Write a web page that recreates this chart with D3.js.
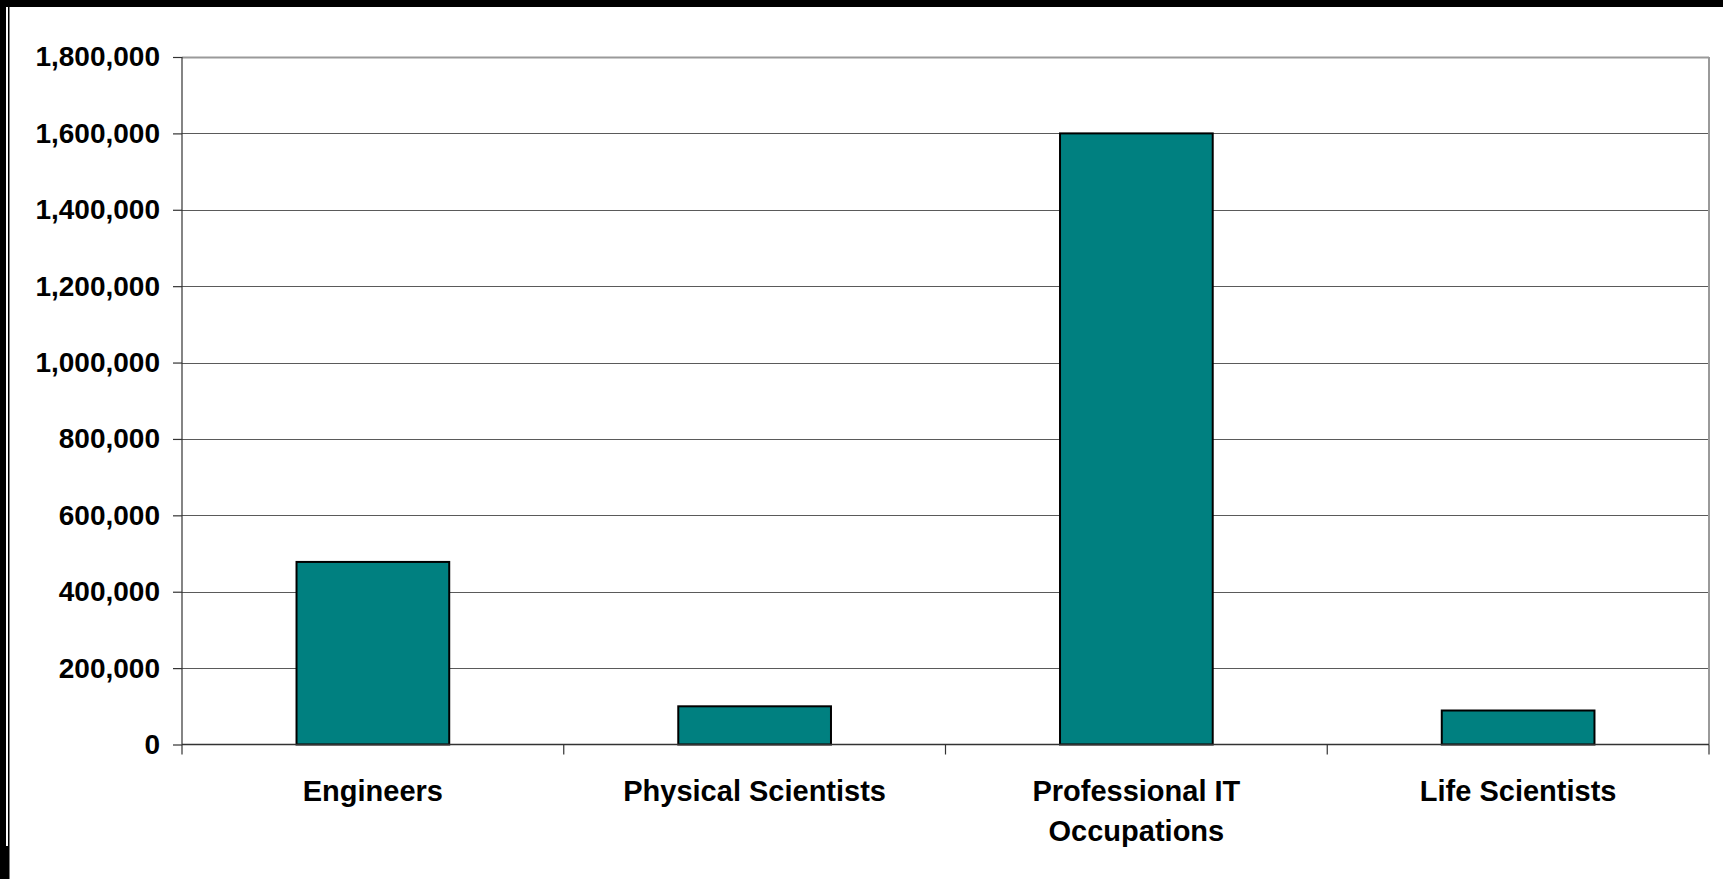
<!DOCTYPE html>
<html>
<head>
<meta charset="utf-8">
<script src="https://d3js.org/d3.v7.min.js"></script>
<style>
  html, body { margin: 0; padding: 0; background: #fff; }
  svg { display: block; }
  text { font-family: "Liberation Sans", Arial, sans-serif; font-weight: bold; fill: #000; }
</style>
</head>
<body>
<div id="chart"></div>
<script>
const categories = ["Engineers", "Physical Scientists", "Professional IT|Occupations", "Life Scientists"];
const values = [478000, 100000, 1600000, 89000];
const yTicks = [0, 200000, 400000, 600000, 800000, 1000000, 1200000, 1400000, 1600000, 1800000];

const W = 1723, H = 879;
const plot = {left: 182, right: 1709, top: 57, bottom: 744.5};

const svg = d3.select("#chart").append("svg")
    .attr("width", W)
    .attr("height", H);

// frame remnants at the top and left edge
svg.append("rect").attr("x", 0).attr("y", 0).attr("width", W).attr("height", 7).attr("fill", "#000");
svg.append("rect").attr("x", 0).attr("y", 0).attr("width", 6).attr("height", H).attr("fill", "#000");
svg.append("rect").attr("x", 8).attr("y", 0).attr("width", 1.5).attr("height", H).attr("fill", "#000");
svg.append("rect").attr("x", 0).attr("y", 846).attr("width", 9).attr("height", H - 846).attr("fill", "#000");

const x = d3.scaleBand()
    .domain(categories)
    .range([plot.left, plot.right])
    .paddingInner(0.6)
    .paddingOuter(0.3);

const y = d3.scaleLinear()
    .domain([0, 1800000])
    .range([plot.bottom, plot.top]);

// gridlines
svg.append("g")
  .selectAll("line")
  .data(yTicks.filter(d => d > 0))
  .join("line")
    .attr("x1", plot.left)
    .attr("x2", plot.right)
    .attr("y1", d => Math.round(y(d)) + 0.5)
    .attr("y2", d => Math.round(y(d)) + 0.5)
    .attr("stroke", d => d === 1800000 ? "#9a9a9a" : "#5a5a5a")
    .attr("stroke-width", d => d === 1800000 ? 2 : 1.2);

// right border of plot area
svg.append("line")
    .attr("x1", plot.right).attr("x2", plot.right)
    .attr("y1", plot.top).attr("y2", plot.bottom)
    .attr("stroke", "#9a9a9a").attr("stroke-width", 2);

// bars
svg.append("g")
  .selectAll("rect")
  .data(values)
  .join("rect")
    .attr("x", (d, i) => x(categories[i]))
    .attr("y", d => y(d))
    .attr("width", x.bandwidth())
    .attr("height", d => y(0) - y(d))
    .attr("fill", "#008080")
    .attr("stroke", "#000")
    .attr("stroke-width", 2);

// y axis
const yAxis = svg.append("g")
    .attr("transform", `translate(${plot.left},0)`)
    .call(d3.axisLeft(y)
        .tickValues(yTicks)
        .tickSize(9)
        .tickPadding(13)
        .tickFormat(d3.format(",")));
yAxis.select(".domain").attr("stroke", "#333").attr("stroke-width", 1.2).attr("d", `M0,${plot.top}V${plot.bottom}`);
yAxis.selectAll(".tick line").attr("stroke", "#333").attr("stroke-width", 1.2);
yAxis.selectAll(".tick text")
    .attr("font-size", 28)
    .attr("font-family", "'Liberation Sans', Arial, sans-serif")
    .attr("font-weight", "bold")
    .attr("fill", "#000");

// x axis line with boundary ticks
svg.append("line")
    .attr("x1", plot.left).attr("x2", plot.right)
    .attr("y1", plot.bottom).attr("y2", plot.bottom)
    .attr("stroke", "#333").attr("stroke-width", 1.5);

const bounds = categories.map((c, i) => plot.left + i * x.step());
bounds.push(plot.right);
svg.append("g")
  .selectAll("line")
  .data(bounds)
  .join("line")
    .attr("x1", d => d).attr("x2", d => d)
    .attr("y1", plot.bottom).attr("y2", plot.bottom + 10)
    .attr("stroke", "#333").attr("stroke-width", 1.2);

// category labels
const labels = svg.append("g")
  .selectAll("text")
  .data(categories)
  .join("text")
    .attr("x", d => x(d) + x.bandwidth() / 2)
    .attr("y", 801)
    .attr("text-anchor", "middle")
    .attr("font-size", 29);
labels.each(function(d) {
  const parts = d.split("|");
  d3.select(this).selectAll("tspan")
    .data(parts)
    .join("tspan")
      .attr("x", x(d) + x.bandwidth() / 2)
      .attr("dy", (p, i) => i === 0 ? 0 : 40)
      .text(p => p);
});
</script>
</body>
</html>
